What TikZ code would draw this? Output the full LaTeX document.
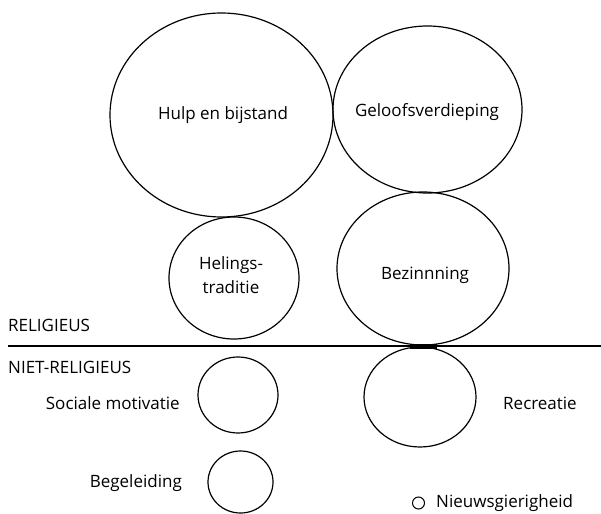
\documentclass[tikz,border=0pt]{standalone}
\usepackage{fontspec}
\setmainfont{Open Sans}
\usepackage{tikz}
\usetikzlibrary{shapes.geometric}

\begin{document}
\begin{tikzpicture}[x=1pt, y=-1pt,
	bubble/.style={draw, ellipse, inner sep=0pt, line width=1.2pt},
	lbl/.style={inner sep=0pt, font=\fontsize{17}{24}\selectfont}]
	%definition of the frame
	\useasboundingbox (0,0) rectangle (601,513);
	
	%definition of the dividing line
	\def\yLINE{346};
	\def\xMIN{8};
	\def\xMAX{601};
	
	%religious motives
	\node [bubble, minimum width=223pt, minimum height=204pt] (hulp) at (221.5,115) {};
	\node [bubble, minimum width=189pt, minimum height=167pt] (geloof) at (427.5,109.5) {};
	\node [bubble, minimum width=130pt, minimum height=122pt] (helings) at (234,278) {};
	\node [bubble, minimum width=172pt, minimum height=153pt] (bezin) at (423,268.5) {};
	
	\node [lbl] (hulptxt) at (223,115) {Hulp en bijstand};
	\node [lbl] (geloottxt) at (427,112) {Geloofsverdieping};
	\node [lbl, align=center] (helingstxt) at (231,275) {Helings-\\traditie};
	\node [lbl] (bezintxt) at (425,275) {Bezinnning};
	
	%line between the two groups
	\coordinate (L) at (\xMIN,\yLINE);
	\coordinate (R) at (\xMAX,\yLINE);
	\draw [line width=1.8pt] (L) -- (R);
	\draw [line width=5pt] (410,\yLINE) -- (437,\yLINE);
	
	\node [lbl, anchor=west] (rel) at (8,325) {RELIGIEUS};
	\node [lbl, anchor=west] (nietrel) at (8,367) {NIET-RELIGIEUS};
	
	%non-religious motives
	\node [bubble, minimum width=80pt, minimum height=76pt] (soc) at (238,395) {};
	\node [bubble, minimum width=112pt, minimum height=100pt] (recr) at (420,397) {};
	\node [bubble, minimum width=65pt, minimum height=62pt] (beg) at (240.5,482) {};
	\node [bubble, line width=1pt, minimum width=12pt, minimum height=12pt] (nieuws) at (418.5,503) {};
	
	\node [lbl, anchor=east] (soctxt) at (180,403) {Sociale motivatie};
	\node [lbl, anchor=west] (recrtxt) at (503,403) {Recreatie};
	\node [lbl, anchor=east] (begtxt) at (182,483) {Begeleiding};
	\node [lbl, anchor=west] (nieuwstxt) at (436,503) {Nieuwsgierigheid};
\end{tikzpicture}
\end{document}
